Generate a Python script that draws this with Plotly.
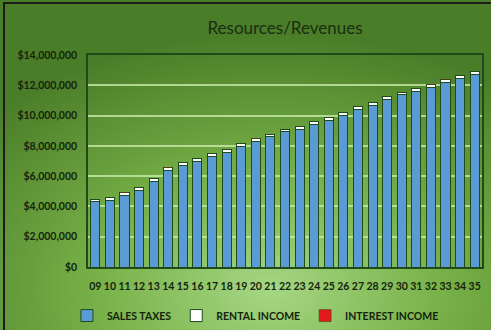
import base64
import plotly.graph_objects as go

years = ["09","10","11","12","13","14","15","16","17","18","19","20","21","22","23","24","25","26","27","28","29","30","31","32","33","34","35"]
totals = [4.49,4.60,4.93,5.24,5.83,6.58,6.89,7.15,7.48,7.77,8.14,8.49,8.78,9.11,9.29,9.59,9.86,10.20,10.58,10.85,11.24,11.55,11.80,12.06,12.39,12.63,12.89]
rental_income = [0.18,0.18,0.18,0.18,0.18,0.18,0.18,0.18,0.18,0.18,0.18,0.18,0.18,0.18,0.18,0.18,0.18,0.18,0.18,0.18,0.18,0.18,0.18,0.18,0.18,0.18,0.18]
interest_income = [0.01,0.01,0.01,0.01,0.01,0.01,0.01,0.01,0.01,0.01,0.01,0.01,0.01,0.01,0.01,0.01,0.01,0.01,0.01,0.01,0.01,0.01,0.01,0.01,0.01,0.01,0.01]
sales_taxes = [round((t - r - i) * 1e6) for t, r, i in zip(totals, rental_income, interest_income)]
rental_income = [round(v * 1e6) for v in rental_income]
interest_income = [round(v * 1e6) for v in interest_income]
y_ticks = [0, 2000000, 4000000, 6000000, 8000000, 10000000, 12000000, 14000000]
y_labels = ["$0", "$2,000,000", "$4,000,000", "$6,000,000", "$8,000,000", "$10,000,000", "$12,000,000", "$14,000,000"]

W, H = 491, 330
L, R, T, B = 88, 9, 55, 63
pw, ph = W - L - R, H - T - B

svg = f'''<svg xmlns="http://www.w3.org/2000/svg" width="{W}" height="{H}" viewBox="0 0 {W} {H}" preserveAspectRatio="none">
<defs><radialGradient id="g" cx="0.55" cy="0.88" r="0.78" gradientUnits="objectBoundingBox">
<stop offset="0" stop-color="#a6d784"/>
<stop offset="0.45" stop-color="#78b148"/>
<stop offset="1" stop-color="#4a7d28"/>
</radialGradient></defs>
<rect x="0" y="0" width="{W}" height="{H}" fill="url(#g)"/>
</svg>'''
src = "data:image/svg+xml;base64," + base64.b64encode(svg.encode()).decode()

edge = "#1f4a1a"
fig = go.Figure()
fig.add_trace(go.Bar(name="SALES TAXES", x=years, y=sales_taxes,
                     marker=dict(color="#5b9bd5", line=dict(color=edge, width=1))))
fig.add_trace(go.Bar(name="RENTAL INCOME", x=years, y=rental_income,
                     marker=dict(color="#ffffff", line=dict(color=edge, width=1))))
fig.add_trace(go.Bar(name="INTEREST INCOME", x=years, y=interest_income,
                     marker=dict(color="#e31a1c", line=dict(color=edge, width=0.5))))

fig.update_layout(
    width=W, height=H,
    margin=dict(l=L, r=R, t=T, b=B, autoexpand=False),
    barmode="stack", bargap=0.38,
    paper_bgcolor="#5a8f36", plot_bgcolor="rgba(0,0,0,0)",
    font=dict(family="Lato, Open Sans, sans-serif", color="#14240c"),
    title=dict(text="Resources/Revenues", x=0.5, xref="paper", xanchor="center",
               y=1 - 28 / H, yanchor="middle",
               font=dict(size=17, color="#1a2e12", family="Lato, Open Sans, sans-serif")),
    showlegend=True,
    legend=dict(orientation="h", x=0.425, xanchor="center", y=-0.229, yanchor="middle",
                font=dict(size=10.5, color="#14240c", family="Lato, Open Sans, sans-serif", weight="bold"),
                bgcolor="rgba(0,0,0,0)", itemwidth=30, traceorder="normal"),
    xaxis=dict(type="category", showgrid=False, ticks="", tickfont=dict(size=10.5, weight="bold"),
               ticklabelstandoff=9, automargin=False,
               showline=True, linecolor=edge, linewidth=1.5, mirror=True),
    yaxis=dict(range=[0, 14000000], tickvals=y_ticks, ticktext=y_labels, automargin=False,
               showgrid=True, gridcolor="rgba(200,235,170,0.8)", gridwidth=1.5,
               tickfont=dict(size=10.5, weight="bold"), ticks="", ticklabelstandoff=7,
               showline=True, linecolor=edge, linewidth=1.5, mirror=True, zeroline=False),
    images=[dict(source=src, xref="paper", yref="paper",
                 x=-L / pw, y=1 + T / ph, sizex=W / pw, sizey=H / ph,
                 xanchor="left", yanchor="top", sizing="stretch", layer="below")],
    shapes=[dict(type="rect", xref="paper", yref="paper",
                 x0=(4 - L) / pw, x1=(W + 5 - L) / pw, y0=-(B + 5) / ph, y1=1 + (T - 3) / ph,
                 line=dict(color="#1c1c1c", width=2), fillcolor="rgba(0,0,0,0)", layer="above")],
)

fig.write_html("out.html", config={"displayModeBar": False},
               post_script="document.body.style.margin='0';document.body.style.overflow='hidden';")
